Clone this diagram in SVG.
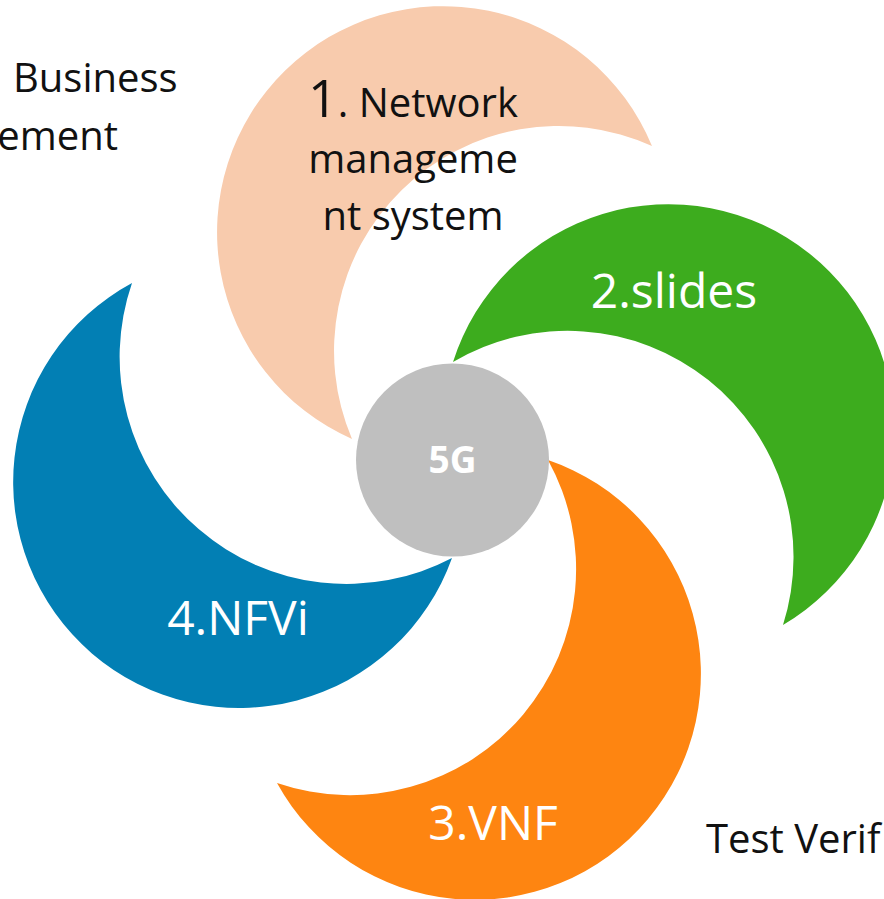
<svg xmlns="http://www.w3.org/2000/svg" width="884" height="899" viewBox="0 0 884 899">
  <style>
    .dark { font-family: "Open Sans", "Noto Sans", "Liberation Sans", sans-serif; font-size: 40px; fill: #111111; }
    .petal-label { font-family: "Open Sans", "Noto Sans", "Liberation Sans", sans-serif; font-size: 48px; fill: #ffffff; text-anchor: middle; }
    .hub-label { font-family: "Open Sans", "Noto Sans", "Liberation Sans", sans-serif; font-size: 37px; font-weight: bold; fill: #ffffff; text-anchor: middle; }
  </style>
  <rect width="884" height="899" fill="#ffffff"/>

  <!-- side captions, partly outside the canvas -->
  <g id="caption-business">
    <text class="dark" x="13" y="92">Business</text>
    <text class="dark" x="118" y="150" text-anchor="end">ement</text>
  </g>
  <g id="caption-test">
    <text class="dark" x="706" y="853">Test Verif</text>
  </g>

  <!-- four crescent petals: outer arc the long way round, inner bite arc back -->
  <g id="petal-1">
    <path d="M652,146 A226,226 0 1 0 352,439 A225,225 0 0 1 652,146 Z" fill="#F8CBAD"/>
    <text class="dark" text-anchor="middle" x="413" y="117"><tspan font-size="52">1</tspan>. Network</text>
    <text class="dark" text-anchor="middle" x="413" y="173">manageme</text>
    <text class="dark" text-anchor="middle" x="413" y="230">nt system</text>
  </g>
  <g id="petal-2">
    <path d="M783,625 A226,226 0 1 0 453,362 A226,226 0 0 1 783,625 Z" fill="#3DAC1E"/>
    <text class="petal-label" x="674" y="308">2.slides</text>
  </g>
  <g id="petal-3">
    <path d="M277,783 A226,226 0 1 0 548,460 A226,226 0 0 1 277,783 Z" fill="#FE8511"/>
    <text class="petal-label" x="493" y="840">3.VNF</text>
  </g>
  <g id="petal-4">
    <path d="M132,283 A226,226 0 1 0 452,558 A227,227 0 0 1 132,283 Z" fill="#027FB4"/>
    <text class="petal-label" x="238" y="635">4.NFVi</text>
  </g>

  <!-- hub -->
  <g id="hub-5g">
    <circle cx="452.5" cy="460" r="96.5" fill="#BFBFBF"/>
    <text class="hub-label" x="452.5" y="473">5G</text>
  </g>
</svg>
